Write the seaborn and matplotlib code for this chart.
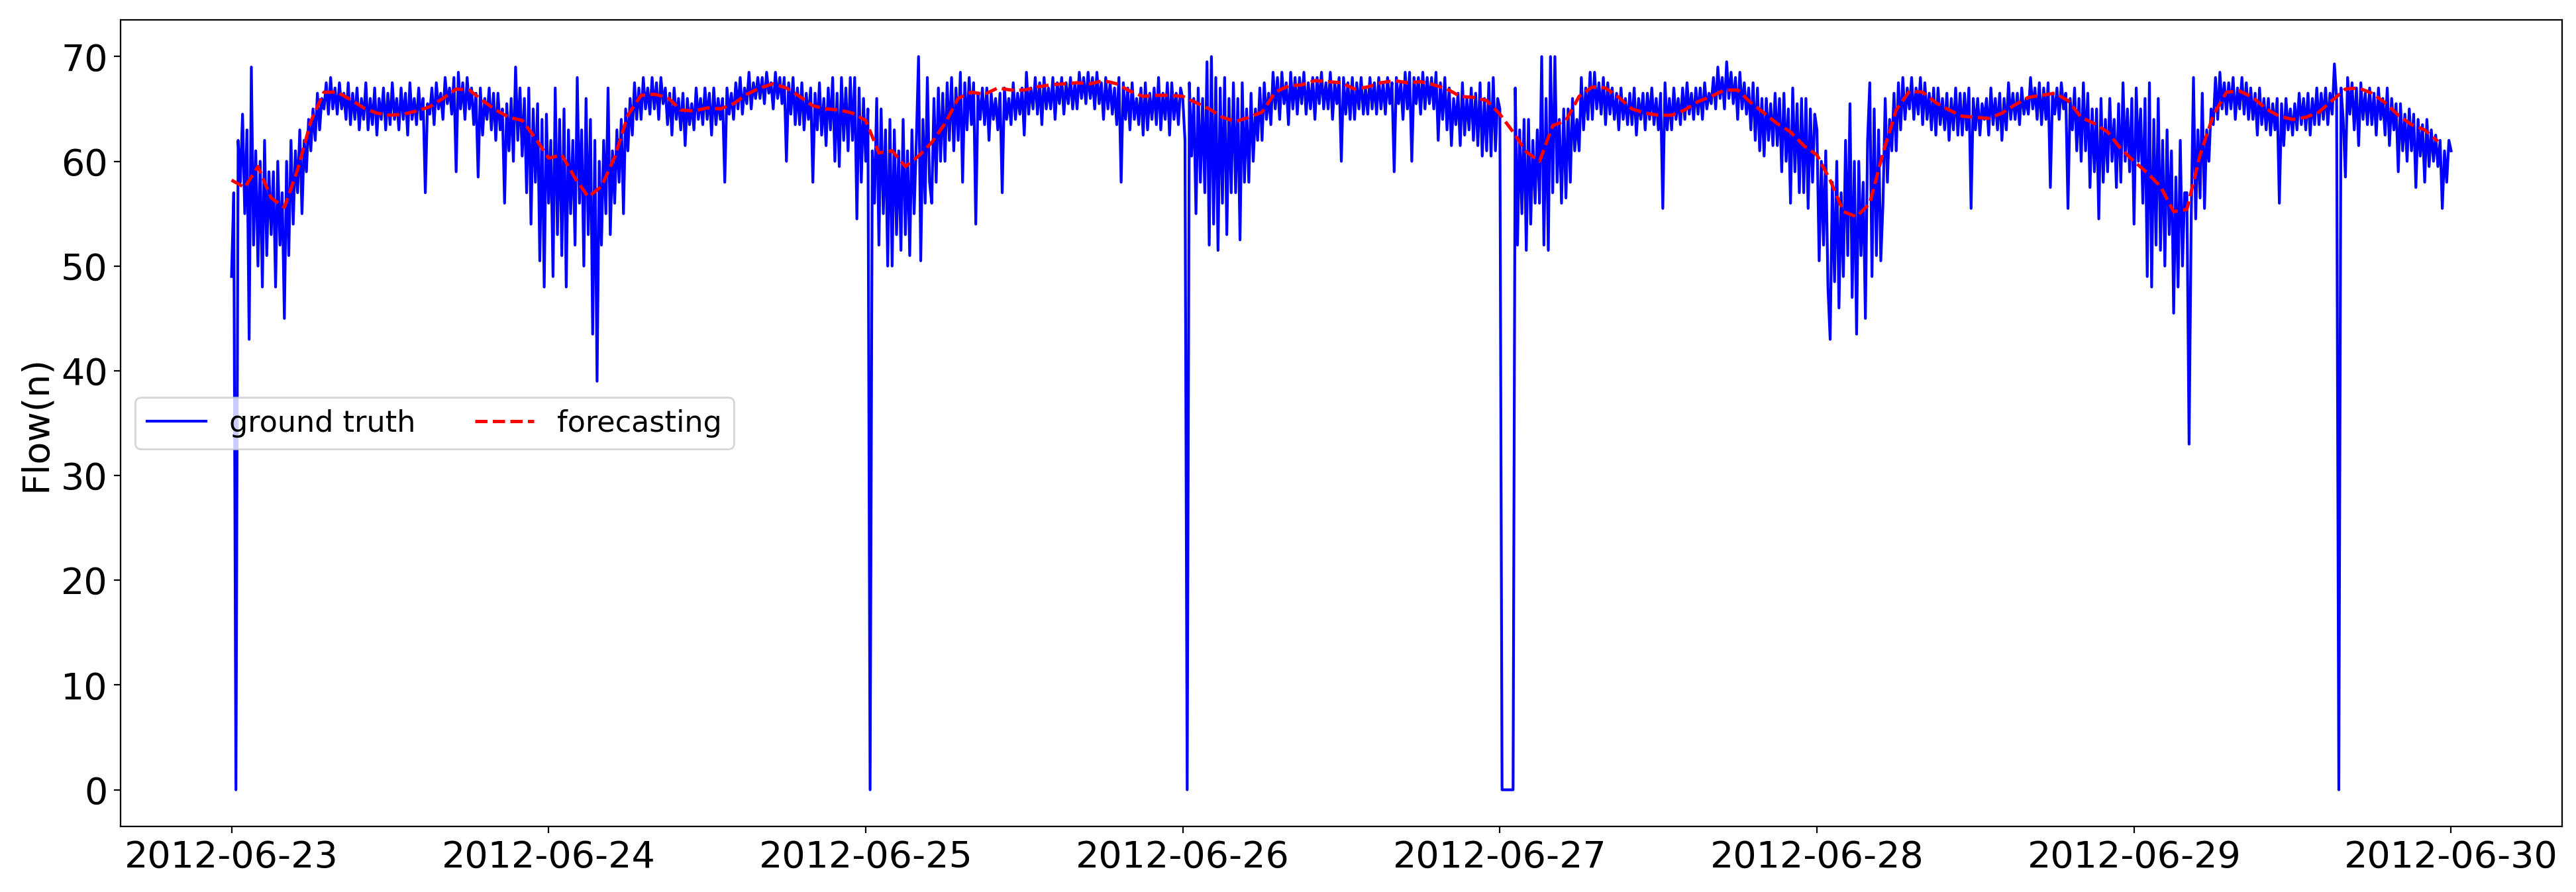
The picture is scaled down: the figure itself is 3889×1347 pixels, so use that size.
import matplotlib
matplotlib.use("Agg")
import matplotlib.pyplot as plt
import matplotlib.dates as mdates
import pandas as pd
import seaborn as sns

# ground truth, one value every 10 minutes (one line per hour)
day_0623 = [49, 57, 0, 62, 58, 64.5,
            55, 63, 43, 69, 52, 61,
            50, 60, 48, 62, 51, 59,
            53, 59, 48, 60, 52, 57,
            45, 60, 51, 62, 54, 61,
            57, 63, 55, 62, 59, 64,
            61, 65, 62, 66.5, 63, 66,
            65, 67.5, 64.5, 68, 65, 67,
            64.5, 67.5, 65, 66.5, 64, 67.5,
            63.5, 66.5, 64, 67, 63, 66,
            64, 67.5, 63, 66, 63.5, 67,
            62.5, 66, 64, 67, 63, 66.5,
            63.5, 67.5, 64, 66, 63, 67,
            64, 66.5, 62.5, 67.5, 64, 66,
            63.5, 67, 64, 66, 57, 65.5,
            64.5, 67, 63.5, 67.5, 65, 66.5,
            64, 68, 65.5, 67, 64.5, 68,
            59, 68.5, 65, 67.5, 64, 68,
            65, 67, 63.5, 66.5, 58.5, 67,
            62.5, 66, 64, 67, 63, 66.5,
            62, 66.5, 63, 65, 56, 65.5,
            61, 66, 60, 69, 62, 67,
            60.5, 66, 57, 67, 54, 65,
            58, 65.5, 50.5, 64, 48, 64.5]
day_0624 = [56, 62, 49, 67, 53, 64,
            51, 65, 48, 63, 55, 62,
            52, 68, 56, 63, 50, 66,
            53, 64, 43.5, 62, 39, 60,
            52, 62, 55, 67, 53, 61,
            56, 63, 58, 64, 55, 65,
            61, 66, 62.5, 67.5, 64, 67,
            64, 68, 65, 67, 64.5, 68,
            65, 67.5, 64, 68, 65.5, 67,
            63.5, 66.5, 62.5, 67, 64, 66,
            63, 66.5, 61.5, 66, 63.5, 65.5,
            63, 67, 64, 66, 63.5, 67,
            64, 66.5, 62.5, 67, 63.5, 66,
            64, 66, 58, 67, 64.5, 66.5,
            64, 67.5, 65, 68, 64.5, 67,
            65.5, 68.5, 65, 67.5, 66, 68,
            66, 68, 65.5, 68.5, 66.5, 67.5,
            65, 68.5, 66, 68, 65.5, 68,
            60, 67.5, 64.5, 68, 63.5, 67,
            63.5, 67.5, 63, 66.5, 64, 67,
            58, 66.5, 63, 67.5, 62.5, 66,
            61.5, 67, 63, 68, 60, 66.5,
            59.5, 68, 62, 67, 61, 68,
            62, 68, 54.5, 67, 58, 66]
day_0625 = [60, 65, 0, 61, 56, 66,
            52, 65, 55, 63, 50, 64,
            50, 63, 53, 61, 51.5, 64,
            53, 61, 51, 63, 55, 62,
            70, 50.5, 64, 56, 68, 58,
            56, 66, 58, 67, 60, 66.5,
            60, 67.5, 62, 68, 61, 67,
            62, 68.5, 58, 67.5, 63, 68,
            63.5, 67.5, 54, 66.5, 64, 67,
            63.5, 67, 62, 66.5, 64, 66,
            63, 66.5, 57, 67, 64, 66,
            63.5, 67.5, 64, 66.5, 64.5, 67,
            62.5, 68.5, 64.5, 67, 65, 68,
            64.5, 67.5, 63.5, 68, 65, 67,
            65, 68, 64, 67.5, 65.5, 68,
            64.5, 67.5, 65.5, 68, 65, 67.5,
            65, 68.5, 66, 68, 65.5, 68.5,
            66, 68, 65, 68.5, 65.5, 67.5,
            64, 68, 65, 67.5, 64.5, 67,
            63.5, 68, 58, 67.5, 64, 67,
            63, 67.5, 64, 66, 63.5, 67,
            62.5, 67.5, 63, 66.5, 64, 67,
            63.5, 68, 63, 66.5, 64, 67.5,
            62.5, 67.5, 64, 66.5, 63.5, 67]
day_0626 = [66, 62, 0, 67.5, 60.5, 66,
            55, 67, 58, 66, 57, 69.5,
            52, 70, 54, 68, 51.5, 67,
            56, 68, 53, 66, 57, 67.5,
            57, 66, 52.5, 67.5, 58, 65,
            58, 66.5, 60, 65, 62, 67,
            62, 67.5, 64, 66.5, 63.5, 68.5,
            65, 68, 64, 68.5, 65.5, 67.5,
            63.5, 68.5, 65, 68, 64.5, 68,
            65.5, 68.5, 64.5, 67.5, 65, 68,
            64, 68, 65.5, 68.5, 65, 67.5,
            65, 68.5, 64, 67.5, 65.5, 68,
            60, 68, 64.5, 67.5, 64, 68,
            64, 67.5, 65, 68, 64.5, 67,
            64.5, 68, 65, 67.5, 64.5, 68,
            65, 67.5, 64.5, 68, 65.5, 67.5,
            59, 68, 65.5, 67.5, 64, 68.5,
            65, 68.5, 60, 68, 65.5, 68,
            64.5, 68.5, 65, 68, 65.5, 68,
            65, 68.5, 62, 67.5, 64, 68,
            63, 67, 61.5, 66, 63.5, 66.5,
            61.5, 67.5, 62.5, 66, 63, 67,
            62, 66.5, 61.5, 67.5, 60.5, 66,
            61, 67.5, 60.5, 68, 61, 66]
day_0627 = [65, 0, 0, 0, 0, 0,
            0, 67, 52, 63, 55, 64,
            51.5, 64, 54, 62, 56, 63,
            56, 70, 52, 66, 51.5, 70,
            57, 70, 58, 64, 56, 65,
            56.5, 65, 58, 66, 61, 64,
            61, 68, 63, 67, 64, 68.5,
            64, 68.5, 65, 67.5, 64.5, 68,
            63.5, 67.5, 64.5, 67, 64, 66.5,
            63, 67, 64, 66, 63.5, 66.5,
            63.5, 67, 62.5, 66, 64, 66.5,
            63, 66.5, 64, 67, 63.5, 66,
            63, 66.5, 55.5, 67.5, 63, 66,
            63, 67, 64, 66, 63.5, 67,
            64, 67.5, 64.5, 66.5, 64, 67,
            64.5, 67, 64, 67.5, 65, 66.5,
            65.5, 68, 65, 69, 66, 68,
            65, 69.5, 66, 68.5, 65.5, 68,
            64, 68.5, 65, 67.5, 64.5, 67,
            63, 67.5, 62, 67, 61, 66,
            60.5, 66, 62, 65.5, 61.5, 66.5,
            61.5, 66, 59, 66.5, 60, 65,
            56, 67, 59, 65.5, 57, 66,
            57, 66, 55.5, 65, 58, 64.5]
day_0628 = [63, 50.5, 60, 52, 61, 48,
            43, 58, 48.5, 60, 46, 57,
            49, 62, 51, 65.5, 47, 60,
            43.5, 60, 51, 58, 45, 62,
            67.5, 49, 65, 51, 63, 50.5,
            56, 66, 58, 64, 61, 66.5,
            61, 67.5, 63, 68, 64, 67,
            65, 68, 64, 67, 64.5, 68,
            63.5, 67.5, 64, 66.5, 63, 67,
            62.5, 67, 63.5, 66, 63, 66.5,
            62, 66, 63, 67, 62.5, 66.5,
            62.5, 66.5, 63, 67, 55.5, 66,
            63, 66, 62.5, 65.5, 64, 66,
            62.5, 67, 63.5, 66, 63, 66.5,
            62, 66, 63, 67.5, 64, 66.5,
            64, 66.5, 63.5, 67, 64.5, 66,
            64.5, 68, 65, 67, 64, 67.5,
            63.5, 67, 64, 67.5, 57.5, 66.5,
            64.5, 67, 64, 67.5, 65, 66.5,
            55.5, 66, 63, 67, 61, 66,
            60, 67.5, 61, 66.5, 57.5, 65,
            59, 65, 54.5, 66, 58, 64,
            59, 66, 60, 64, 57.5, 65.5,
            58, 67.5, 60, 65, 59, 66]
day_0629 = [54, 67, 60, 65, 56, 66,
            49, 67.5, 48, 64, 52, 66,
            51.5, 62, 50, 63, 53, 61,
            45.5, 58.5, 48, 62, 50, 57,
            57, 33, 55, 68, 54.5, 63,
            56.5, 66.5, 55.5, 63, 60, 65,
            63.5, 68, 64, 68.5, 65, 67.5,
            64.5, 67.5, 65, 68, 64, 67,
            65, 68, 64.5, 67.5, 64, 67,
            64, 66.5, 62.5, 67, 63.5, 66,
            63, 66, 62.5, 65.5, 63, 66,
            56, 65.5, 61.5, 66, 63, 65,
            62.5, 65.5, 63, 66.5, 63.5, 66,
            63, 66.5, 62.5, 66, 63.5, 67,
            63.5, 66.5, 64, 67, 63.5, 66.5,
            64.5, 69.3, 66, 0, 67, 64,
            58.5, 68, 64.5, 67.5, 63, 67,
            61.5, 67.5, 64, 66.5, 63.5, 67,
            63.5, 66.5, 62.5, 67, 64, 66,
            62.5, 67, 61.5, 66, 63, 65.5,
            59, 65.5, 61, 64.5, 60, 65,
            61, 64.5, 57.5, 64, 60.5, 63.5,
            58, 64, 59.5, 63, 60, 62.5,
            59.5, 62, 55.5, 61, 58, 62,
            61]

# forecasting, hourly
forecast = [58.2, 57.5, 59.5, 56.5, 55.6, 59.2, 63.8, 66.6, 66.6, 65.9, 65.1, 64.6,
            64.4, 64.5, 64.8, 65.2, 66.0, 66.9, 66.8, 65.8, 64.9, 64.2, 63.9, 62.2,
            60.3, 60.6, 58.4, 56.6, 57.6, 60.4, 64.4, 66.3, 66.4, 66.1, 64.9, 64.8,
            65.1, 65.0, 65.5, 66.4, 67.0, 67.4, 67.0, 66.2, 65.3, 65.0, 64.9, 64.6,
            63.9, 60.8, 61.0, 59.5, 60.5, 61.8, 63.6, 66.0, 66.6, 66.4, 67.0, 66.8,
            66.8, 67.1, 67.3, 67.4, 67.5, 67.4, 67.7, 67.4, 66.7, 66.2, 66.3, 66.3,
            66.2, 65.6, 65.0, 64.2, 63.8, 64.2, 64.7, 66.6, 67.2, 67.3, 67.7, 67.6,
            67.5, 66.9, 67.1, 67.5, 67.7, 67.5, 67.6, 67.3, 66.9, 66.2, 66.1, 65.8,
            64.5, 62.8, 60.9, 60.0, 63.4, 63.9, 66.2, 67.1, 67.0, 66.1, 65.0, 64.6,
            64.4, 64.4, 64.9, 65.7, 66.2, 66.8, 66.8, 65.6, 64.6, 63.6, 62.8, 61.5,
            60.6, 58.2, 55.2, 54.7, 56.0, 60.8, 64.9, 66.7, 66.6, 65.6, 64.9, 64.3,
            64.2, 64.1, 64.6, 65.4, 66.1, 66.3, 66.5, 65.8, 64.2, 63.6, 62.8, 61.2,
            60.0, 58.9, 57.6, 55.2, 55.4, 60.6, 64.4, 66.6, 66.7, 66.1, 65.0, 64.3,
            64.0, 64.2, 64.7, 65.8, 66.9, 67.0, 66.5, 65.6, 64.4, 63.5, 63.0, 61.9]

truth = day_0623 + day_0624 + day_0625 + day_0626 + day_0627 + day_0628 + day_0629
truth_df = pd.DataFrame({
    "time": pd.date_range("2012-06-23", periods=len(truth), freq="10min"),
    "flow": truth,
})
fc_df = pd.DataFrame({
    "time": pd.date_range("2012-06-23", periods=len(forecast), freq="h"),
    "flow": forecast,
})

fig, ax = plt.subplots(figsize=(19.445, 6.735))
sns.lineplot(data=truth_df, x="time", y="flow", color="blue", linewidth=1.5,
             estimator=None, label="ground truth", ax=ax)
sns.lineplot(data=fc_df, x="time", y="flow", color="red", linewidth=1.8,
             linestyle="--", estimator=None, label="forecasting", ax=ax)

ax.xaxis.set_major_locator(mdates.DayLocator())
ax.xaxis.set_major_formatter(mdates.DateFormatter("%Y-%m-%d"))
ax.set_xlabel("")
ax.set_ylabel("Flow(n)", fontsize=20)
ax.tick_params(labelsize=20)
ax.legend(loc="center left", ncol=2, fontsize=16)

fig.subplots_adjust(left=0.0468, right=0.9946, top=0.9777, bottom=0.0735)
fig.savefig("out.png", dpi=200)
plt.close(fig)
